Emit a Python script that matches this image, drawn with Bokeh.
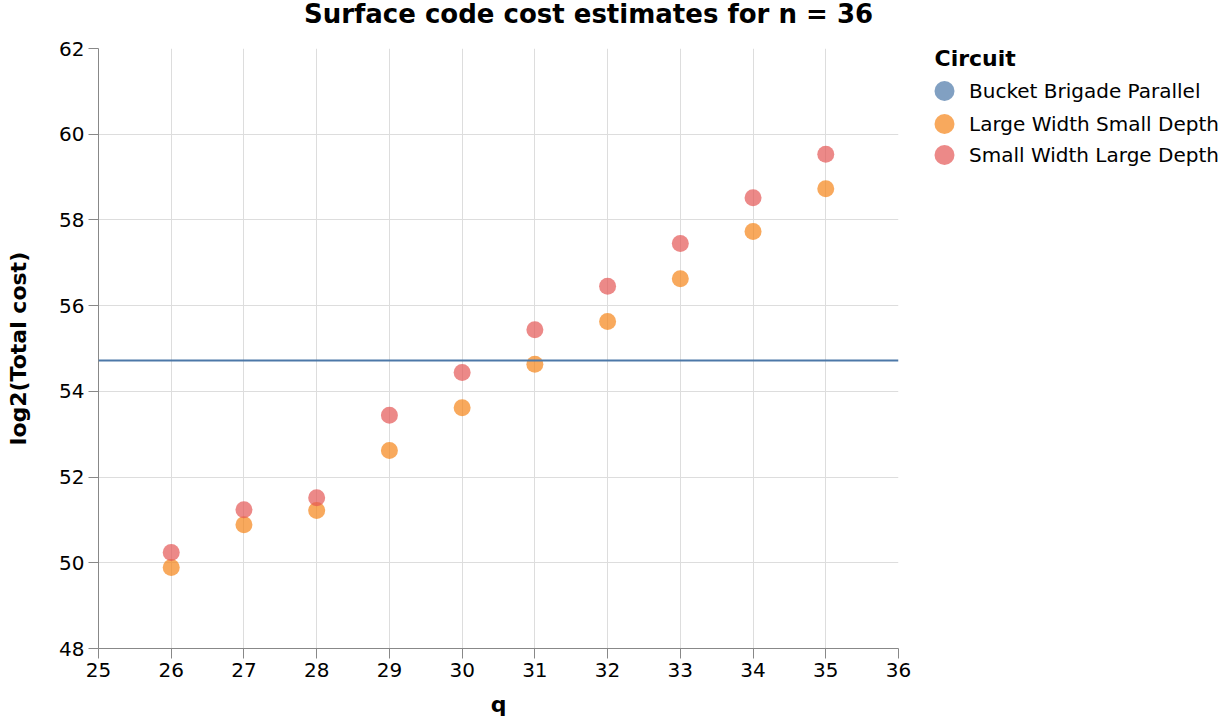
from bokeh.plotting import figure
from bokeh.layouts import row, column
from bokeh.models import (Span, Legend, LegendItem, ColumnDataSource, FixedTicker,
                          Range1d, Label)
from bokeh.embed import file_html
from bokeh.resources import INLINE

# ---- data ----
circuits = ["Bucket Brigade Parallel", "Large Width Small Depth", "Small Width Large Depth"]
colors = ["#4c78a8", "#f58518", "#e45756"]
q_values = [26, 27, 28, 29, 30, 31, 32, 33, 34, 35]
lwsd_cost = [49.89, 50.89, 51.22, 52.62, 53.62, 54.63, 55.63, 56.63, 57.73, 58.73]
swld_cost = [50.24, 51.24, 51.52, 53.44, 54.44, 55.44, 56.45, 57.45, 58.52, 59.53]
bbp_cost = 54.72
x_ticks = list(range(25, 37))
y_ticks = list(range(48, 63, 2))
title_text = "Surface code cost estimates for n = 36"

FONT = "DejaVu Sans"


def blank(fig):
    fig.title = None
    fig.outline_line_color = None
    fig.grid.visible = False
    fig.border_fill_color = "white"
    fig.background_fill_color = "white"


# ---- title strip ----
tf = figure(width=1231, height=36, output_backend="svg", toolbar_location=None,
            x_axis_type=None, y_axis_type=None, min_border=0,
            x_range=Range1d(0, 1), y_range=Range1d(0, 1))
blank(tf)
tf.add_layout(Label(x=588, y=23, x_units="screen", y_units="screen", text=title_text,
                    text_font=FONT, text_font_size="26px", text_font_style="bold",
                    text_color="#000000", text_baseline="middle", text_align="center"))

# ---- main chart ----
p = figure(width=918, height=685, output_backend="svg", toolbar_location=None,
           x_range=Range1d(25, 36), y_range=Range1d(48, 62),
           min_border_left=98, min_border_right=20, min_border_top=12, min_border_bottom=73)
p.title = None
p.outline_line_color = None
p.background_fill_color = "white"
p.border_fill_color = "white"

for ax in (p.xaxis[0], p.yaxis[0]):
    ax.axis_line_color = "#888888"
    ax.major_tick_line_color = "#888888"
    ax.major_tick_out = 10
    ax.major_tick_in = 0
    ax.minor_tick_line_color = None
    ax.major_label_text_font = FONT
    ax.major_label_text_font_size = "20px"
    ax.major_label_text_color = "#000000"
    ax.axis_label_text_font = FONT
    ax.axis_label_text_font_size = "22px"
    ax.axis_label_text_font_style = "bold"
    ax.axis_label_text_color = "#000000"
    ax.major_label_standoff = 4

p.xaxis.ticker = FixedTicker(ticks=x_ticks)
p.yaxis.ticker = FixedTicker(ticks=y_ticks)
p.xaxis.axis_label = "q"
p.yaxis.axis_label = "log2(Total cost)"
p.xaxis.axis_label_standoff = 12
p.yaxis.axis_label_standoff = 25

p.grid.grid_line_color = "#dddddd"
p.grid.grid_line_width = 1

# Bucket brigade: horizontal rule
p.add_layout(Span(location=bbp_cost, dimension="width", line_color=colors[0], line_width=2))

p.scatter(x=q_values, y=lwsd_cost, size=17, fill_color=colors[1], fill_alpha=0.7, line_color=None)
p.scatter(x=q_values, y=swld_cost, size=17, fill_color=colors[2], fill_alpha=0.7, line_color=None)

# ---- legend panel (its ranges exclude the data, so only the legend symbols show) ----
lp = figure(width=313, height=685, output_backend="svg", toolbar_location=None,
            x_axis_type=None, y_axis_type=None, min_border=0,
            x_range=Range1d(0, 1), y_range=Range1d(0, 1))
blank(lp)

series_y = [[bbp_cost] * len(q_values), lwsd_cost, swld_cost]
legend_vy = [530, 497, 466]
for name, col, ys, vy in zip(circuits, colors, series_y, legend_vy):
    src = ColumnDataSource(dict(x=q_values, y=ys))
    rend = lp.scatter(x="x", y="y", source=src, size=17, fill_color=col, fill_alpha=0.7,
                      line_color=None)
    lg = Legend(items=[LegendItem(label=name, renderers=[rend])],
                location=(1, vy),
                label_text_font=FONT, label_text_font_size="20px", label_text_color="#000000",
                glyph_width=50, glyph_height=55, label_standoff=-2, label_height=20,
                padding=0, margin=0, spacing=0, border_line_color=None, background_fill_alpha=0)
    lp.add_layout(lg, "center")

lp.add_layout(Label(x=16, y=590, x_units="screen", y_units="screen", text="Circuit",
                    text_font=FONT, text_font_size="22px", text_font_style="bold",
                    text_color="#000000", text_baseline="middle", text_align="left"))

layout = column(tf, row(p, lp, spacing=0), spacing=0)
open("out.html", "w").write(file_html(layout, INLINE))
